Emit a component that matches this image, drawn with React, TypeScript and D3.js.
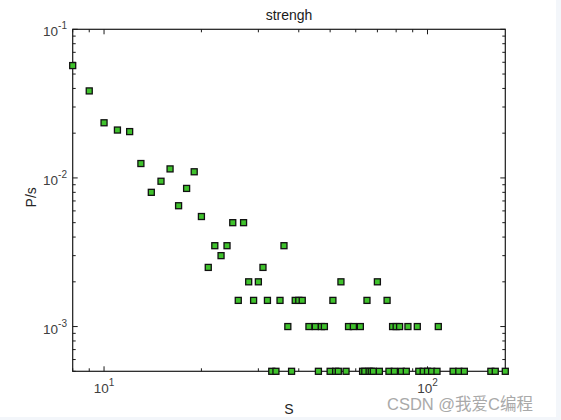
import React from "react";
import * as d3 from "d3";

const sValues = [
  8, 9, 10, 11, 12, 13, 14, 15, 16, 17, 18, 19, 20, 21, 22, 23, 24, 25, 26, 27,
  28, 29, 30, 31, 32, 33, 34, 35, 36, 37, 38, 39, 40, 41, 43, 45, 46, 47, 48,
  50, 51, 52, 53, 54, 56, 57, 59, 62, 63, 64, 65, 66, 67, 68, 70, 71, 75, 76,
  78, 79, 80, 82, 83, 86, 87, 93, 94, 97, 100, 103, 107, 108, 120, 125, 130,
  157, 162, 174,
];
const pValues = [
  0.057, 0.0385, 0.0235, 0.021, 0.0205, 0.0125, 0.008, 0.0095, 0.0115, 0.0065,
  0.0085, 0.011, 0.0055, 0.0025, 0.0035, 0.003, 0.0035, 0.005, 0.0015, 0.005,
  0.002, 0.0015, 0.002, 0.0025, 0.0015, 0.0005, 0.0005, 0.0015, 0.0035, 0.001,
  0.0005, 0.0015, 0.0015, 0.0015, 0.001, 0.001, 0.0005, 0.001, 0.001, 0.0005,
  0.0015, 0.0005, 0.0005, 0.002, 0.0005, 0.001, 0.001, 0.001, 0.0005, 0.0005,
  0.0015, 0.0005, 0.0005, 0.0005, 0.002, 0.0005, 0.0015, 0.0005, 0.001, 0.0005,
  0.001, 0.001, 0.0005, 0.0005, 0.001, 0.001, 0.0005, 0.0005, 0.0005, 0.0005,
  0.0005, 0.001, 0.0005, 0.0005, 0.0005, 0.0005, 0.0005, 0.0005,
];
const xMajorTicks = [10, 100];
const xMajorLabels = ["1", "2"];
const yMajorTicks = [0.1, 0.01, 0.001];
const yMajorLabels = ["-1", "-2", "-3"];
const xDomain = [8, 174];
const yDomain = [0.0005, 0.1];
const titleText = "strengh";
const xLabelText = "S";
const yLabelText = "P/s";
const watermark = "CSDN @我爱C编程";

const W = 561;
const H = 420;
const L = 72.7, R = 505.3, T = 29.3, B = 371.3;
const font = "'Liberation Sans', Arial, Helvetica, sans-serif";

export default function App() {
  const x = d3.scaleLog().domain(xDomain).range([L, R]);
  const y = d3.scaleLog().domain(yDomain).range([B, T]);

  const xMinor: number[] = [];
  for (let d = 1; d <= 100; d *= 10)
    for (let k = 2; k <= 9; k++) {
      const v = k * d;
      if (v >= xDomain[0] && v <= xDomain[1]) xMinor.push(v);
    }
  const yMinor: number[] = [];
  for (let d = 0.0001; d <= 0.01 + 1e-12; d *= 10)
    for (let k = 2; k <= 9; k++) {
      const v = k * d;
      if (v >= yDomain[0] - 1e-12 && v <= yDomain[1]) yMinor.push(v);
    }

  const ms = 6;
  return (
    <svg
      width={W}
      height={H}
      style={{ position: "absolute", left: 0, top: 0, background: "#fff" }}
      fontFamily={font}
    >
      <rect x={0} y={0} width={W} height={H} fill="#ffffff" />
      <rect x={556} y={0} width={W - 556} height={H} fill="#f3f6fa" />
      <rect x={0} y={417} width={W} height={H - 417} fill="#f3f6fa" />

      {/* box */}
      <rect x={L} y={T} width={R - L} height={B - T} fill="none" stroke="#1a1a1a" strokeWidth={1.2} />

      {/* x ticks */}
      {xMinor.map((v) => (
        <g key={"xm" + v}>
          <line x1={x(v)} x2={x(v)} y1={B} y2={B - 3} stroke="#1a1a1a" />
          <line x1={x(v)} x2={x(v)} y1={T} y2={T + 3} stroke="#1a1a1a" />
        </g>
      ))}
      {xMajorTicks.map((v, i) => (
        <g key={"xM" + v}>
          <line x1={x(v)} x2={x(v)} y1={B} y2={B - 5} stroke="#1a1a1a" />
          <line x1={x(v)} x2={x(v)} y1={T} y2={T + 5} stroke="#1a1a1a" />
          <text x={x(v)} y={393} textAnchor="middle" fontSize={13.5} fill="#404040">
            <tspan>10</tspan>
            <tspan dy={-7} fontSize={10}>{xMajorLabels[i]}</tspan>
          </text>
        </g>
      ))}

      {/* y ticks */}
      {yMinor.map((v) => (
        <g key={"ym" + v}>
          <line x1={L} x2={L + 3} y1={y(v)} y2={y(v)} stroke="#1a1a1a" />
          <line x1={R} x2={R - 3} y1={y(v)} y2={y(v)} stroke="#1a1a1a" />
        </g>
      ))}
      {yMajorTicks.map((v, i) => (
        <g key={"yM" + v}>
          <line x1={L} x2={L + 5} y1={y(v)} y2={y(v)} stroke="#1a1a1a" />
          <line x1={R} x2={R - 5} y1={y(v)} y2={y(v)} stroke="#1a1a1a" />
          <text x={67} y={y(v) + 7} textAnchor="end" fontSize={13.5} fill="#404040">
            <tspan>10</tspan>
            <tspan dy={-7} fontSize={10}>{yMajorLabels[i]}</tspan>
          </text>
        </g>
      ))}

      {/* markers */}
      {sValues.map((s, i) => (
        <rect
          key={"p" + i}
          x={x(s) - ms / 2}
          y={y(pValues[i]) - ms / 2}
          width={ms}
          height={ms}
          fill="#3fc22c"
          stroke="#111"
          strokeWidth={1.3}
        />
      ))}

      {/* labels */}
      <text x={(L + R) / 2} y={20} textAnchor="middle" fontSize={14} fill="#1a1a1a">
        {titleText}
      </text>
      <text x={(L + R) / 2} y={414} textAnchor="middle" fontSize={14} fill="#262626">
        {xLabelText}
      </text>
      <text
        transform={`translate(36, ${(T + B) / 2 - 3}) rotate(-90)`}
        textAnchor="middle"
        fontSize={14}
        fill="#262626"
      >
        {yLabelText}
      </text>

      <text
        x={387}
        y={410}
        fontSize={16.5}
        fill="#a9a9a9"
        fontFamily="'Liberation Sans', 'Noto Sans CJK SC', sans-serif"
      >
        {watermark}
      </text>
    </svg>
  );
}
